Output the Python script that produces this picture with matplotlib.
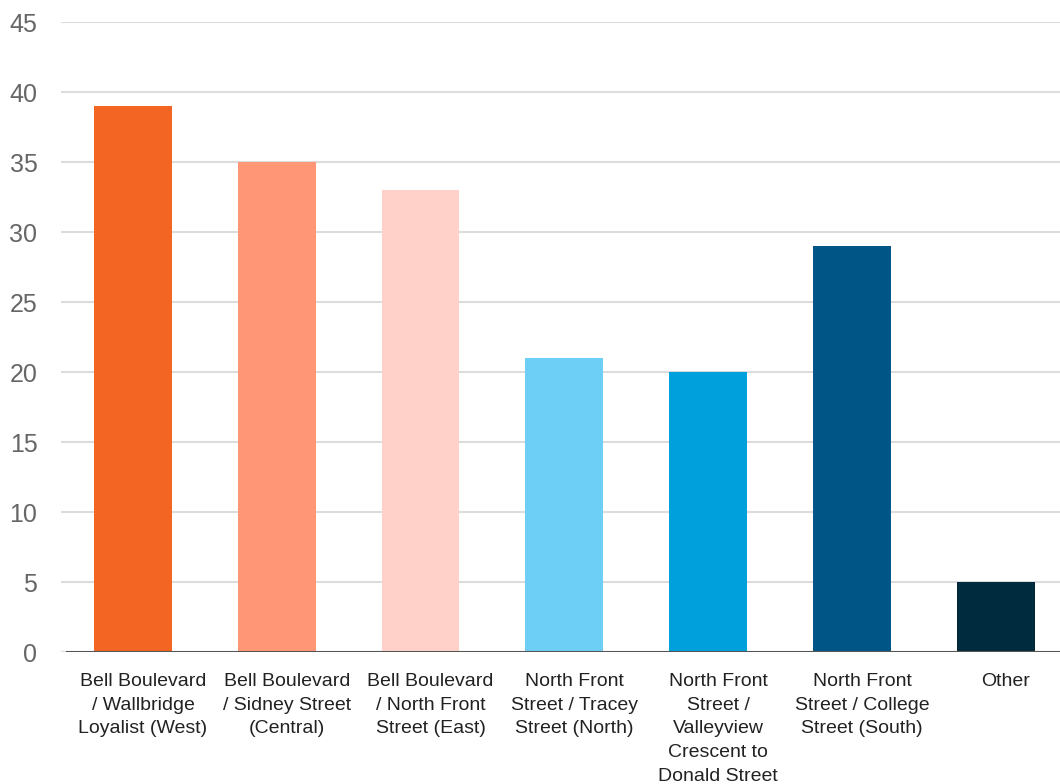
import matplotlib.pyplot as plt

# === Datos ===
categorias = [
    "Bell Boulevard\n/ Wallbridge\nLoyalist (West)",
    "Bell Boulevard\n/ Sidney Street\n(Central)",
    "Bell Boulevard\n/ North Front\nStreet (East)",
    "North Front\nStreet / Tracey\nStreet (North)",
    "North Front\nStreet /\nValleyview\nCrescent to\nDonald Street",
    "North Front\nStreet / College\nStreet (South)",
    "Other",
]
valores = [39, 35, 33, 21, 20, 29, 5]
colores = ["#F26522", "#FF9676", "#FFD1C9", "#6DCFF6", "#00A0DC", "#005587", "#002A3E"]
yticks = [0, 5, 10, 15, 20, 25, 30, 35, 40, 45]

plt.rcParams['font.family'] = ['Liberation Sans', 'DejaVu Sans']

fig = plt.figure(figsize=(10.6, 7.84), dpi=100)
ax = fig.add_axes([61 / 1060, 1 - 652 / 784, 1 - 61 / 1060, (652 - 22) / 784])

x = list(range(len(categorias)))
ax.bar(x, valores, width=0.54, color=colores, zorder=3)

ax.set_xlim(-0.5, 6.447)
ax.set_ylim(0, 45)
ax.set_yticks(yticks)
ax.set_yticklabels([str(v) for v in yticks], fontsize=18, color="#666666")
# las etiquetas del original quedan un poco a la derecha de las barras
ax.set_xticks([i + 0.07 for i in x])
ax.set_xticklabels(categorias, fontsize=14, color="#222222", linespacing=1.52, va="top")

ax.grid(axis="y", color="#dcdcdc", linewidth=1.5, zorder=0)
ax.xaxis.grid(False)
ax.axhline(0, xmin=6 / 999, color="#555555", linewidth=2.2, zorder=4)
ax.tick_params(axis="both", length=0)
ax.tick_params(axis="y", pad=17)
ax.tick_params(axis="x", pad=15)
for s in ax.spines.values():
    s.set_visible(False)

fig.savefig("out.png", dpi=100)
plt.close()
